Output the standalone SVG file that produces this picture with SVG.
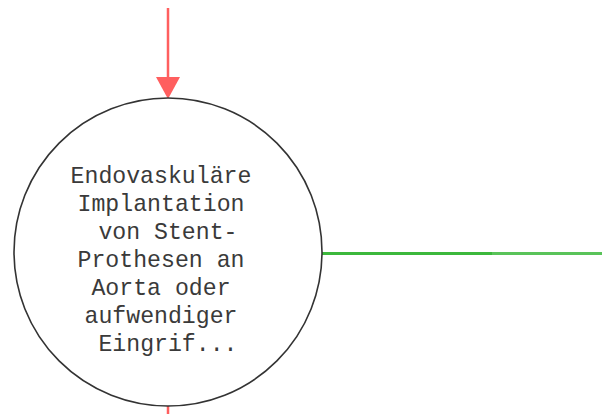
<svg xmlns="http://www.w3.org/2000/svg" width="602" height="414" viewBox="0 0 602 414">
  <style>
    .node-shape { fill: #ffffff; stroke: #333333; stroke-width: 1.6; }
    .node-label { font-family: "Liberation Mono", "DejaVu Sans Mono", monospace; font-size: 23.2px; fill: #3a3a3a; text-anchor: middle; }
    .edge-in { stroke: #ff5f5f; stroke-width: 2.5; fill: none; }
    .edge-out { stroke: #3cb83c; stroke-width: 3; fill: none; }
  </style>

  <g id="connectors">
    <line class="edge-in" x1="168" y1="8" x2="168" y2="80"/>
    <polygon points="156,77 180,77 168,99" fill="#ff5f5f"/>
    <line class="edge-in" x1="168" y1="406" x2="168" y2="414"/>
    <line class="edge-out" x1="322" y1="253.5" x2="602" y2="253.5" opacity="0.85"/>
    <line class="edge-out" x1="322" y1="253.5" x2="492" y2="253.5" stroke="#2fae2f"/>
  </g>

  <g id="node-endovaskulaere">
    <circle class="node-shape" cx="168" cy="252" r="154"/>
    <text class="node-label"><tspan x="161" y="183">Endovaskuläre</tspan><tspan x="161" y="211">Implantation</tspan><tspan x="161" y="239" xml:space="preserve"> von Stent-</tspan><tspan x="161" y="267">Prothesen an</tspan><tspan x="161" y="295">Aorta oder</tspan><tspan x="161" y="323">aufwendiger</tspan><tspan x="161" y="351" xml:space="preserve"> Eingrif...</tspan></text>
  </g>
</svg>
